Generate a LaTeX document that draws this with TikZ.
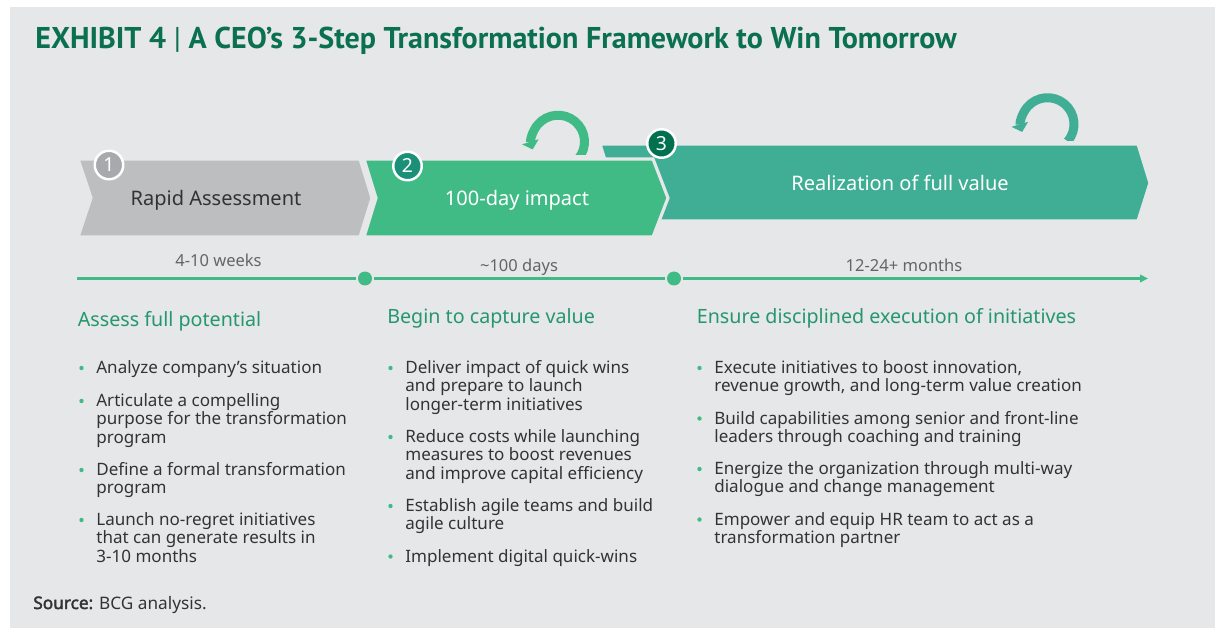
\documentclass[tikz,border=0pt]{standalone}
\usepackage{fontspec}
\setmainfont{Noto Sans}
\newfontfamily\titlefont{PT Sans}
\newfontfamily\heavyfont{Noto Sans}[FakeBold=2.2]
\usetikzlibrary{calc,arrows.meta}

\definecolor{panel}{HTML}{E6E7E8}
\definecolor{titlegreen}{HTML}{0B7050}
\definecolor{headgreen}{HTML}{24976D}
\definecolor{stepgrey}{HTML}{BCBEC0}
\definecolor{stepgreen}{HTML}{41BB85}
\definecolor{stepteal}{HTML}{3FAE95}
\definecolor{numgrey}{HTML}{A7A9AC}
\definecolor{numteal}{HTML}{1C8F79}
\definecolor{numdark}{HTML}{00704F}
\definecolor{bodytext}{HTML}{333333}
\definecolor{timegrey}{HTML}{646567}

\tikzset{
  chevron/.style={draw=panel, line width=1.8pt, line join=miter},
  steptext/.style={font=\fontsize{11.4}{13}\selectfont, anchor=base, inner sep=0},
  numball/.style={circle, draw=white, line width=1.4pt, minimum size=0.57cm, inner sep=0,
    text=white, font=\fontsize{11}{12}\selectfont},
  loop/.style={line width=5.1pt, -{Triangle[width=0.34cm,length=0.16cm]}},
  tline/.style={stepgreen, line width=1.7pt},
  tdot/.style={circle, fill=stepgreen, minimum size=0.28cm, inner sep=0, outer sep=1.2pt},
  timelabel/.style={text=timegrey, font=\fontsize{9.4}{11}\selectfont, anchor=base, inner sep=0},
  heading/.style={text=headgreen, font=\fontsize{11.2}{13}\selectfont, anchor=base west, inner sep=0},
  % first line sits on the given point
  item/.style={text=bodytext, font=\fontsize{9.7}{10.4}\selectfont, align=left, anchor=north west,
    inner sep=0, yshift=7.28pt, execute at begin node=\strut}
}
\def\itemdot(#1){\fill[stepgreen] ($(#1.north west)+(-14.5,7.8)$) circle (2.2);}

\begin{document}
\begin{tikzpicture}[x=0.02cm, y=-0.02cm]
    %%%%% START %%%%%
    \useasboundingbox (0,0) rectangle (1215,628);
    \fill[white] (0,0) rectangle (1215,628);
    \fill[panel] (10,7) rectangle (1215,628);

    \node[anchor=base west, inner sep=0, text=titlegreen, font=\titlefont\bfseries\fontsize{17.1}{19}\selectfont]
      (title) at (35,48.5) {EXHIBIT 4 {\mdseries|} A CEO’s 3-Step Transformation Framework to Win Tomorrow};

    % the three steps
    \draw[chevron, fill=stepteal] (600,144) -- (1138,144) -- (1150,183) -- (1138,221) -- (600,221) -- (612,183) -- cycle;
    \draw[chevron, fill=stepgrey] (78,159) -- (360,159) -- (372,198) -- (360,237) -- (78,237) -- (91,198) -- cycle;
    \draw[chevron, fill=stepgreen] (364,159) -- (653,159) -- (668,198) -- (653,237) -- (364,237) -- (376,198) -- cycle;

    \node[steptext, text=bodytext] (rapid) at (216,206) {Rapid Assessment};
    \node[steptext, text=white] (impact) at (517,206) {100-day impact};
    \node[steptext, text=white] (full) at (900,190.5) {Realization of full value};

    \node[numball, fill=numgrey] (one) at (109,165) {1};
    \node[numball, fill=numteal] (two) at (407.5,166) {2};
    \node[numball, fill=numdark] (three) at (661.5,143.5) {3};

    % repeat arrows
    \begin{scope}
      \clip (500,90) rectangle (598,155);
      \draw[loop, stepgreen] (558,141.7) ++(40:26.5) arc (40:-197:26.5);
    \end{scope}
    \begin{scope}
      \clip (990,80) rectangle (1100,141);
      \draw[loop, stepteal] (1047.5,124.2) ++(40:26.5) arc (40:-197:26.5);
    \end{scope}

    % timeline
    \coordinate (tstart) at (77,278.5);
    \node[tdot] (m1) at (365,278.5) {};
    \node[tdot] (m2) at (674,278.5) {};
    \coordinate (tend) at (1148,278.5);
    \draw[tline] (tstart) -- (m1);
    \draw[tline] (m1) -- (m2);
    \draw[tline, -{Triangle[length=0.16cm,width=0.15cm]}] (m2) -- (tend);

    \node[timelabel] (weeks) at (218.5,267) {4-10 weeks};
    \node[timelabel] (days) at (519,271.5) {\textasciitilde{}100 days};
    \node[timelabel] (months) at (904,271.5) {12-24+ months};

    % columns
    \node[heading] (assess) at (77.5,327) {Assess full potential};
    \node[heading] (capture) at (387,323.5) {Begin to capture value};
    \node[heading] (ensure) at (696.5,323.5) {Ensure disciplined execution of initiatives};

    \node[item] (a1) at (96,373) {Analyze company’s situation};
    \node[item] (a2) at (96,406) {Articulate a compelling\\purpose for the transformation\\program};
    \node[item] (a3) at (96,475) {Define a formal transformation\\program};
    \node[item] (a4) at (96,525) {Launch no-regret initiatives\\that can generate results in\\3-10 months};

    \node[item] (b1) at (405,373) {Deliver impact of quick wins\\and prepare to launch\\longer-term initiatives};
    \node[item] (b2) at (405,442) {Reduce costs while launching\\measures to boost revenues\\and improve capital efficiency};
    \node[item] (b3) at (405,511) {Establish agile teams and build\\agile culture};
    \node[item] (b4) at (405,561.5) {Implement digital quick-wins};

    \node[item] (c1) at (714,373) {Execute initiatives to boost innovation,\\revenue growth, and long-term value creation};
    \node[item] (c2) at (714,423.5) {Build capabilities among senior and front-line\\leaders through coaching and training};
    \node[item] (c3) at (714,474) {Energize the organization through multi-way\\dialogue and change management};
    \node[item] (c4) at (714,524.5) {Empower and equip HR team to act as a\\transformation partner};

    \itemdot(a1) \itemdot(a2) \itemdot(a3) \itemdot(a4)
    \itemdot(b1) \itemdot(b2) \itemdot(b3) \itemdot(b4)
    \itemdot(c1) \itemdot(c2) \itemdot(c3) \itemdot(c4)

    \node[anchor=base west, inner sep=0, text=bodytext, font=\fontsize{9.8}{11}\selectfont]
      (source) at (33,609) {{\heavyfont Source:} BCG analysis.};
    %%%%% END %%%%%
\end{tikzpicture}
\end{document}
